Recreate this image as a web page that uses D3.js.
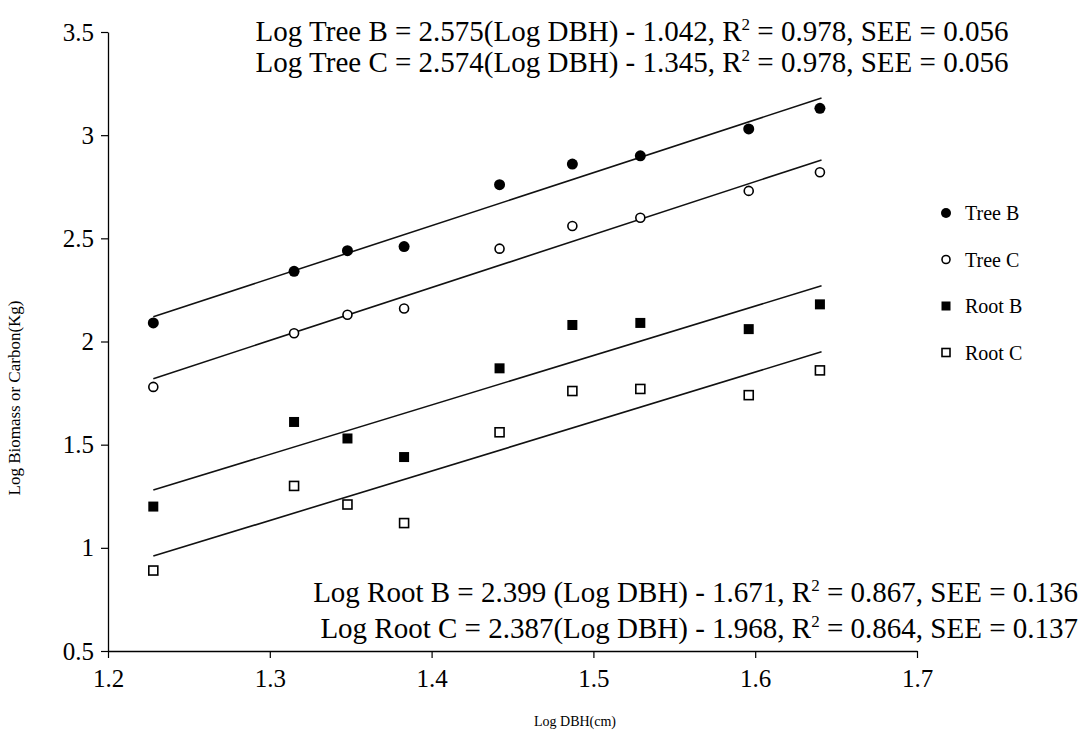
<!DOCTYPE html>
<html>
<head>
<meta charset="utf-8">
<script src="https://cdn.jsdelivr.net/npm/d3@7"></script>
<style>
  body { margin: 0; background: #fff; }
  text { font-family: "Liberation Serif", "Times New Roman", serif; fill: #000; }
</style>
</head>
<body>
<div id="chart"></div>
<script>
// Log DBH for each tree
var logDBH = [1.228, 1.315, 1.348, 1.383, 1.442, 1.487, 1.529, 1.596, 1.640];

var treeB = [2.09, 2.34, 2.44, 2.46, 2.76, 2.86, 2.90, 3.03, 3.13];
var treeC = [1.78, 2.04, 2.13, 2.16, 2.45, 2.56, 2.60, 2.73, 2.82];
var rootB = [1.20, 1.61, 1.53, 1.44, 1.87, 2.08, 2.09, 2.06, 2.18];
var rootC = [0.89, 1.30, 1.21, 1.12, 1.56, 1.76, 1.77, 1.74, 1.86];

// fitted lines, end points
var lineX = [1.228, 1.641];
var fitTreeB = [2.12, 3.18];
var fitTreeC = [1.82, 2.88];
var fitRootB = [1.28, 2.27];
var fitRootC = [0.96, 1.95];

var xTicks = [1.2, 1.3, 1.4, 1.5, 1.6, 1.7];
var yTicks = [0.5, 1, 1.5, 2, 2.5, 3, 3.5];

var seriesNames = ["Tree B", "Tree C", "Root B", "Root C"];

var width = 1088;
var height = 734;

var svg = d3.select("#chart")
  .append("svg")
  .attr("width", width)
  .attr("height", height);

var x = d3.scaleLinear().domain([1.2, 1.7]).range([108, 917]);
var y = d3.scaleLinear().domain([0.5, 3.5]).range([651, 32]);

// axes
var xAxis = svg.append("g")
  .attr("transform", "translate(0," + y(0.5) + ")")
  .call(d3.axisBottom(x).tickValues(xTicks).tickSize(7).tickSizeOuter(0)
    .tickFormat(d3.format("")));
var yAxis = svg.append("g")
  .attr("transform", "translate(" + x(1.2) + ",0)")
  .call(d3.axisLeft(y).tickValues(yTicks).tickSize(7).tickSizeOuter(0)
    .tickFormat(d3.format("")));

[xAxis, yAxis].forEach(function(a) {
  a.select(".domain").attr("stroke", "#000").attr("stroke-width", 1.3);
  a.selectAll(".tick line").attr("stroke", "#000").attr("stroke-width", 1.2);
  a.selectAll(".tick text")
    .style("font-family", "Liberation Serif")
    .style("font-size", "25px")
    .attr("fill", "#000");
});
xAxis.selectAll(".tick text").attr("dy", "1.05em");
yAxis.selectAll(".tick text").attr("x", -14);

// axis titles
svg.append("text")
  .attr("x", 575)
  .attr("y", 726)
  .attr("text-anchor", "middle")
  .style("font-size", "14px")
  .text("Log DBH(cm)");

svg.append("text")
  .attr("transform", "translate(20," + 398 + ") rotate(-90)")
  .attr("text-anchor", "middle")
  .style("font-size", "17px")
  .text("Log Biomass or Carbon(Kg)");

// trend lines
var line = d3.line()
  .x(function(d) { return x(d[0]); })
  .y(function(d) { return y(d[1]); });

[fitTreeB, fitTreeC, fitRootB, fitRootC].forEach(function(f) {
  svg.append("path")
    .datum(lineX.map(function(v, i) { return [v, f[i]]; }))
    .attr("d", line)
    .attr("fill", "none")
    .attr("stroke", "#111")
    .attr("stroke-width", 1.6);
});

// markers
function drawCircles(vals, filled) {
  svg.append("g").selectAll("circle")
    .data(vals)
    .enter()
    .append("circle")
    .attr("cx", function(d, i) { return x(logDBH[i]); })
    .attr("cy", function(d) { return y(d); })
    .attr("r", filled ? 5.5 : 4.5)
    .attr("fill", filled ? "#000" : "#fff")
    .attr("stroke", "#000")
    .attr("stroke-width", filled ? 0 : 1.6);
}
function drawSquares(vals, filled) {
  var s = filled ? 10 : 9;
  svg.append("g").selectAll("rect")
    .data(vals)
    .enter()
    .append("rect")
    .attr("x", function(d, i) { return x(logDBH[i]) - s / 2; })
    .attr("y", function(d) { return y(d) - s / 2; })
    .attr("width", s)
    .attr("height", s)
    .attr("fill", filled ? "#000" : "#fff")
    .attr("stroke", "#000")
    .attr("stroke-width", filled ? 0 : 1.6);
}
drawCircles(treeB, true);
drawCircles(treeC, false);
drawSquares(rootB, true);
drawSquares(rootC, false);

// legend
var legend = svg.append("g").attr("transform", "translate(946,213)");
seriesNames.forEach(function(name, i) {
  var g = legend.append("g").attr("transform", "translate(0," + i * 46.5 + ")");
  if (i < 2) {
    g.append("circle").attr("r", i == 0 ? 5 : 4)
      .attr("fill", i == 0 ? "#000" : "#fff")
      .attr("stroke", "#000").attr("stroke-width", i == 0 ? 0 : 1.6);
  } else {
    var s = i == 2 ? 9 : 8;
    g.append("rect").attr("x", -s / 2).attr("y", -s / 2)
      .attr("width", s).attr("height", s)
      .attr("fill", i == 2 ? "#000" : "#fff")
      .attr("stroke", "#000").attr("stroke-width", i == 2 ? 0 : 1.6);
  }
  g.append("text")
    .attr("x", 19)
    .attr("dy", "0.35em")
    .style("font-size", "20px")
    .text(name);
});

// regression equations
function equation(txt, r2, see, xPos, yPos, anchor) {
  var t = svg.append("text")
    .attr("x", xPos)
    .attr("y", yPos)
    .attr("text-anchor", anchor)
    .style("font-size", "29px");
  t.append("tspan").text(txt + ", R");
  t.append("tspan").attr("dy", -11).style("font-size", "17px").text("2");
  t.append("tspan").attr("dy", 11).text(" = " + r2 + ", SEE = " + see);
}
equation("Log Tree B = 2.575(Log DBH) - 1.042", "0.978", "0.056", 632, 41, "middle");
equation("Log Tree C = 2.574(Log DBH) - 1.345", "0.978", "0.056", 632, 72, "middle");
equation("Log Root B = 2.399 (Log DBH) - 1.671", "0.867", "0.136", 1078, 602, "end");
equation("Log Root C = 2.387(Log DBH) - 1.968", "0.864", "0.137", 1078, 638, "end");
</script>
</body>
</html>
